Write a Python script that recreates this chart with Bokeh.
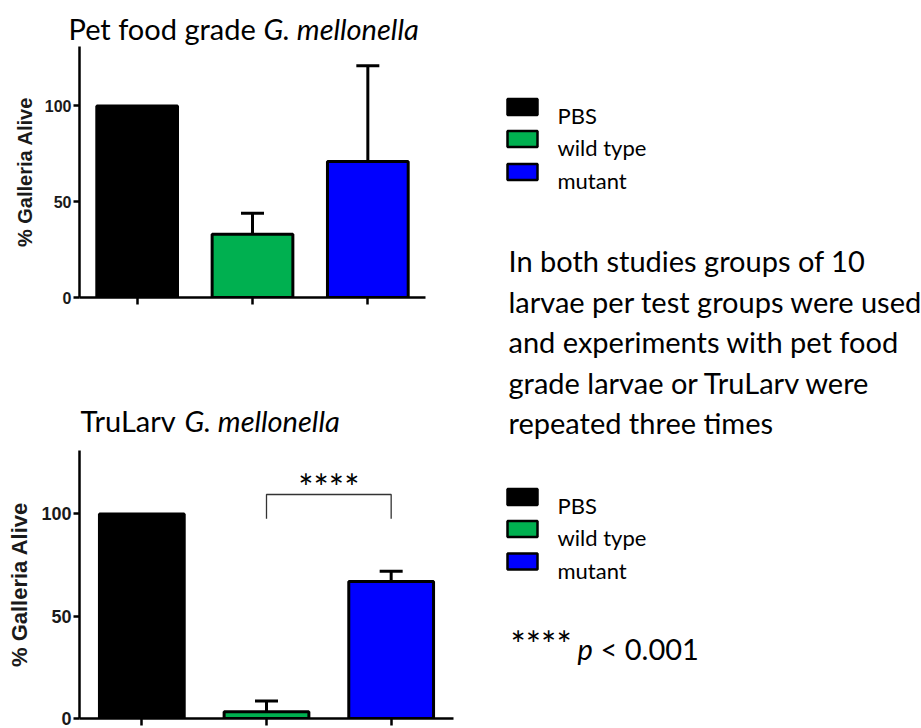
from bokeh.plotting import figure
from bokeh.layouts import row, column
from bokeh.models import (ColumnDataSource, FactorRange, Range1d, FixedTicker,
                          Whisker, TeeHead)
from bokeh.embed import file_html
from bokeh.resources import INLINE
from bokeh.core.properties import value

# Survival of larvae after injection (% alive, mean + SD)
groups = ["PBS", "wild type", "mutant"]
colors = ["#000000", "#00B050", "#0000FF"]
pet_alive = [100, 33, 71]
pet_err = [0, 11, 50]
tru_alive = [100, 3.3, 67]
tru_err = [0, 5.3, 5]
y_ticks = [0, 50, 100]

notes = [
    "In both studies groups of 10",
    "larvae per test groups were used",
    "and experiments with pet food",
    "grade larvae or TruLarv were",
    "repeated three times",
]

TEXT_FONT = "Lato"
AXIS_FONT = "Liberation Sans"
BODY_SIZE = "29px"
STAR_SIZE = "36px"
Y_MAX = 131


def blank_panel(x0, x1, y0, y1):
    """Plain drawing area in pixel coordinates, y growing downwards."""
    p = figure(x_range=Range1d(x0, x1), y_range=Range1d(y1, y0),
               width=x1 - x0, height=y1 - y0, output_backend="svg",
               toolbar_location=None, min_border=0)
    p.axis.visible = False
    p.xgrid.visible = False
    p.ygrid.visible = False
    p.outline_line_color = None
    return p


def title_panel(height, baseline, x_plain, x_ital, plain, ital):
    p = blank_panel(0, 470, 0, height)
    p.text(x=[x_plain], y=[baseline], text=[plain], text_font=value(TEXT_FONT),
           text_font_size=BODY_SIZE, text_baseline="alphabetic",
           text_color="black")
    p.text(x=[x_ital], y=[baseline], text=[ital], text_font=value(TEXT_FONT),
           text_font_size=BODY_SIZE, text_font_style="italic",
           text_baseline="alphabetic", text_color="black")
    return p


def bar_panel(alive, err, height, borders, bar_w, label_px, tick_px):
    right, bottom = borders
    p = figure(x_range=FactorRange(*groups), y_range=Range1d(0, Y_MAX),
               width=470, height=height, output_backend="svg",
               toolbar_location=None, min_border_left=79,
               min_border_right=right, min_border_top=0,
               min_border_bottom=bottom)
    src = ColumnDataSource(dict(group=groups, alive=alive, color=colors))
    p.vbar(x="group", top="alive", width=bar_w, fill_color="color",
           line_color="black", line_width=3, source=src)

    keep = [i for i, e in enumerate(err) if e > 0]
    err_src = ColumnDataSource(dict(
        group=[groups[i] for i in keep],
        lower=[alive[i] for i in keep],
        upper=[alive[i] + err[i] for i in keep],
    ))
    p.add_layout(Whisker(base="group", lower="lower", upper="upper",
                         dimension="height", source=err_src,
                         line_color="black", line_width=3,
                         upper_head=TeeHead(size=23, line_width=3,
                                            line_color="black"),
                         lower_head=None))

    p.xgrid.visible = False
    p.ygrid.visible = False
    p.outline_line_color = None

    # category axis: tick marks only, the groups are named in the legend
    xa = p.xaxis[0]
    xa.major_label_text_color = None
    xa.major_label_text_font_size = "1px"
    xa.major_label_standoff = 0
    xa.major_tick_out = 7
    xa.major_tick_in = 0
    xa.major_tick_line_width = 2.5
    xa.axis_line_width = 2.5
    xa.axis_line_color = "black"
    xa.major_tick_line_color = "black"

    ya = p.yaxis[0]
    ya.ticker = FixedTicker(ticks=y_ticks)
    ya.minor_tick_line_color = None
    ya.major_tick_out = 6
    ya.major_tick_in = 0
    ya.major_tick_line_width = 2.5
    ya.axis_line_width = 2.5
    ya.axis_line_color = "black"
    ya.major_tick_line_color = "black"
    ya.major_label_text_font = AXIS_FONT
    ya.major_label_text_font_style = "bold"
    ya.major_label_text_font_size = f"{tick_px}px"
    ya.major_label_text_color = "#1a1a1a"
    ya.major_label_standoff = 2
    ya.axis_label = "% Galleria Alive"
    ya.axis_label_text_font = AXIS_FONT
    ya.axis_label_text_font_style = "bold"
    ya.axis_label_text_font_size = f"{label_px}px"
    ya.axis_label_text_color = "#1a1a1a"
    ya.axis_label_standoff = 6
    return p


# pet food grade larvae
top_title = title_panel(46, 28, 68, 263, "Pet food grade", "G. mellonella")
top = bar_panel(pet_alive, pet_err, 318, (45, 67), 0.70, 20, 16)

# TruLarv larvae
bot_title = title_panel(86, 56, 80, 184, "TruLarv", "G. mellonella")
bot = bar_panel(tru_alive, tru_err, 278, (17, 10), 0.68, 22, 18)

# significance bracket between wild type and mutant
bot.line(x=["wild type", "wild type", "mutant", "mutant"],
         y=[97.7, 109.5, 109.5, 97.7], line_color="#333333", line_width=1.3)
bot.text(x=[2.0], y=[113.4], text=["****"], text_font=value(TEXT_FONT),
         text_font_size=STAR_SIZE, text_align="center",
         text_baseline="alphabetic", text_color="black")

# side panel with legends and notes
side = blank_panel(470, 921, 0, 728)

for centers in ([106.5, 138.5, 171.5], [496.5, 528.5, 561.0]):
    side.rect(x=[522] * 3, y=centers, width=30, height=16,
              fill_color=colors, line_color="black", line_width=2.5)
    side.text(x=[557] * 3, y=[c + 8.5 for c in centers], text=groups,
              text_font=value(TEXT_FONT), text_font_size="22px",
              text_baseline="alphabetic", text_color="black")

side.text(x=[508] * len(notes), y=[260 + 40.6 * i for i in range(len(notes))],
          text=notes, text_font=value(TEXT_FONT), text_font_size=BODY_SIZE,
          text_baseline="alphabetic", text_color="black")

side.text(x=[510], y=[643], text=["****"], text_font=value(TEXT_FONT),
          text_font_size=STAR_SIZE, text_baseline="alphabetic",
          text_color="black")
side.text(x=[577], y=[648], text=["p"], text_font=value(TEXT_FONT),
          text_font_size=BODY_SIZE, text_font_style="italic",
          text_baseline="alphabetic", text_color="black")
side.text(x=[600], y=[648], text=["< 0.001"], text_font=value(TEXT_FONT),
          text_font_size=BODY_SIZE, text_baseline="alphabetic",
          text_color="black")

left = column(row(top_title), row(top), row(bot_title), row(bot), spacing=0)
layout = row(left, side, spacing=0)
open("out.html", "w").write(file_html(layout, INLINE))
